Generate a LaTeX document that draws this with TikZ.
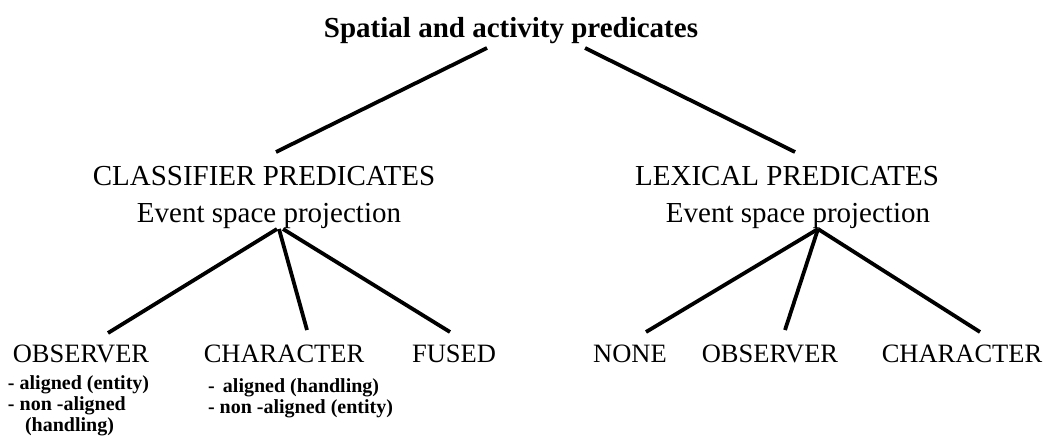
\documentclass[tikz,border=0pt]{standalone}
\usepackage{fontspec}
\setmainfont{Liberation Serif}
\begin{document}
\begin{tikzpicture}[x=1pt,y=-1pt,
  every node/.style={inner sep=0pt,outer sep=0pt},
  titlebox/.style={font=\fontsize{29}{34}\selectfont\bfseries,anchor=base},
  midbox/.style={font=\fontsize{29}{34}\selectfont,anchor=base},
  leafbox/.style={font=\fontsize{26.5}{31}\selectfont,anchor=base},
  subbox/.style={font=\fontsize{20}{24}\selectfont\bfseries,anchor=base west},
  link/.style={line width=3.8pt}]
\useasboundingbox[fill=white] (0,0) rectangle (1051,439);
% texts
\node[titlebox] (title) at (511,37) {Spatial and activity predicates};
\node[midbox] (cls) at (264,185) {CLASSIFIER PREDICATES};
\node[midbox] (clsev) at (269,222) {Event space projection};
\node[midbox] (lex) at (787,185) {LEXICAL PREDICATES};
\node[midbox] (lexev) at (798,222) {Event space projection};
\node[leafbox] (obs) at (81,362) {OBSERVER};
\node[leafbox] (chr) at (284,362) {CHARACTER};
\node[leafbox] (fus) at (454,362) {FUSED};
\node[leafbox] (none) at (630,362) {NONE};
\node[leafbox] (lobs) at (770,362) {OBSERVER};
\node[leafbox] (lchr) at (962,362) {CHARACTER};
\node[subbox] (o1) at (8,389) {- aligned (entity)};
\node[subbox] (o2) at (8,410) {- non -aligned};
\node[subbox] (o3) at (25,431) {(handling)};
\node[subbox] (c1) at (208,392) {- \,aligned (handling)};
\node[subbox] (c2) at (208,413) {- non -aligned (entity)};
% connector ends
\coordinate (tl) at (487,48);
\coordinate (tr) at (585,48);
\coordinate (clstop) at (276,152);
\coordinate (lextop) at (795,152);
\coordinate (ca) at (277,229);
\coordinate (cb) at (279,229);
\coordinate (cc) at (283,229);
\coordinate (la) at (818,229);
\coordinate (obsend) at (108,333);
\coordinate (chrend) at (307,330);
\coordinate (fusend) at (450,332);
\coordinate (noneend) at (646,332);
\coordinate (lobsend) at (785,330);
\coordinate (lchrend) at (980,332);
% connectors
\draw[link] (tl) -- (clstop);
\draw[link] (tr) -- (lextop);
\draw[link] (ca) -- (obsend);
\draw[link] (cb) -- (chrend);
\draw[link] (cc) -- (fusend);
\draw[link] (la) -- (noneend);
\draw[link] (la) -- (lobsend);
\draw[link] (la) -- (lchrend);
\end{tikzpicture}
\end{document}
